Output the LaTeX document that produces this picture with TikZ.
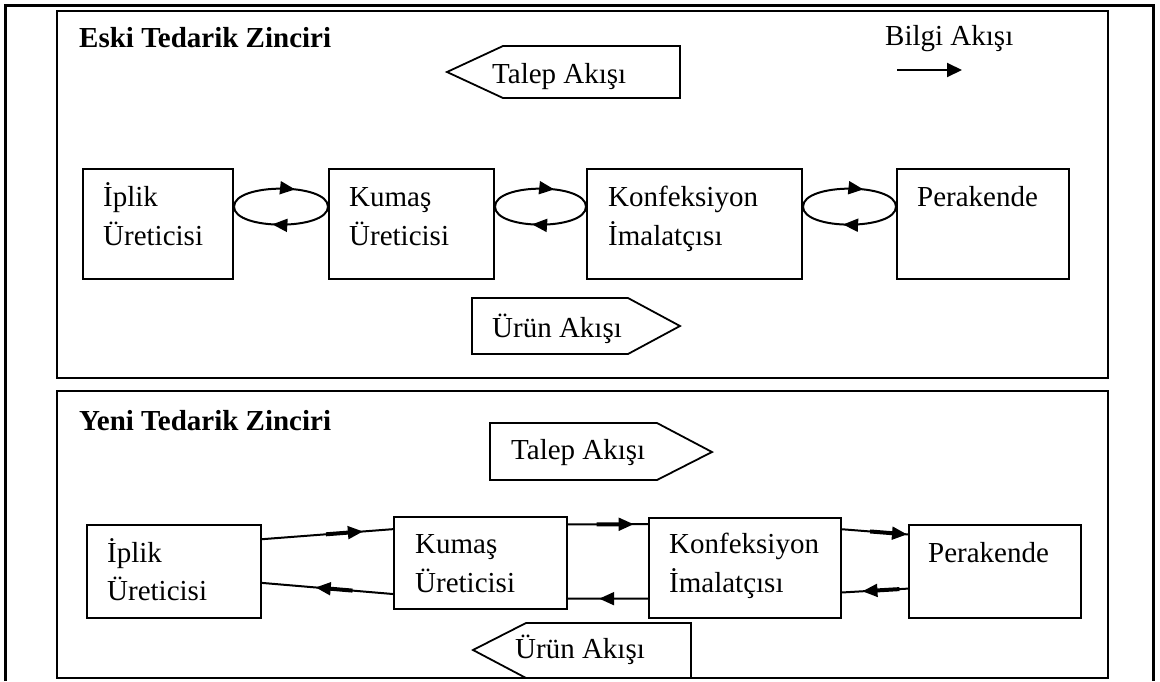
\documentclass[tikz,border=0pt]{standalone}
\usepackage{fontspec}
\setmainfont{Liberation Serif}
\usetikzlibrary{arrows.meta,decorations.markings,calc}
\begin{document}
\begin{tikzpicture}[x=1pt,y=-1pt,
  lbl/.style={inner sep=0pt, anchor=base west, font=\fontsize{29}{35}\selectfont},
  ttl/.style={inner sep=0pt, anchor=base west, font=\fontsize{29}{35}\selectfont\bfseries},
  stepbox/.style={draw, line width=2pt, inner sep=0pt, anchor=north west},
  panel/.style={draw, line width=2.4pt},
  link/.style={line width=2pt},
  flowshape/.style={line width=1.8pt, line join=miter},
  tipat/.style={postaction={decorate, decoration={markings,
      mark=at position #1 with {\arrow{Triangle[length=15pt,width=13pt]}}}}},
  tipbar/.style={postaction={decorate, decoration={markings,
      mark=at position #1 with {\draw[line width=4pt] (-37pt,0pt) -- (-14pt,0pt);
                                \arrow{Triangle[length=15pt,width=13pt]}}}}},
]
\useasboundingbox (0,0) rectangle (1160,681);

% outer frame (open at the bottom) and the two panels
\draw[line width=3pt] (5,681) -- (5,5) -- (1153,5) -- (1153,681);
\draw[panel] (57,11) rectangle (1108,378);
\draw[panel] (57,391) rectangle (1108,678);

% ---------- old supply chain ----------
\node[ttl] (oldtitle) at (79,47) {Eski Tedarik Zinciri};

\node[lbl] (info) at (885,45) {Bilgi Akışı};
\coordinate (infoA) at (897,70);
\coordinate (infoB) at (962,70);
\draw[link,-{Triangle[length=15pt,width=14pt]}] (infoA) -- (infoB);

\draw[flowshape] (447,72) -- (503,46) -- (680,46) -- (680,98) -- (503,98) -- cycle;
\node[lbl] (dem1) at (492,83) {Talep Akışı};

\draw[flowshape] (472,298) -- (628,298) -- (680,326) -- (628,354) -- (472,354) -- cycle;
\node[lbl] (prod1) at (492,337) {Ürün Akışı};

\node[stepbox, minimum width=150, minimum height=110] (ip1) at (82,168) {};
\node[stepbox, minimum width=165, minimum height=110] (ku1) at (328,168) {};
\node[stepbox, minimum width=215, minimum height=110] (ko1) at (586,168) {};
\node[stepbox, minimum width=172, minimum height=110] (pe1) at (896,168) {};

\node[lbl] (ip1a) at (103,206) {İplik};
\node[lbl] (ip1b) at (103,245) {Üreticisi};
\node[lbl] (ku1a) at (349,206) {Kumaş};
\node[lbl] (ku1b) at (349,245) {Üreticisi};
\node[lbl] (ko1a) at (608,206) {Konfeksiyon};
\node[lbl] (ko1b) at (608,245) {İmalatçısı};
\node[lbl] (pe1a) at (917,206) {Perakende};

% two-way information loops
\coordinate (l1a) at ($(ip1.north east)!0.345!(ip1.south east)$);
\coordinate (l1b) at ($(ku1.north west)!0.345!(ku1.south west)$);
\coordinate (l2a) at ($(ku1.north east)!0.345!(ku1.south east)$);
\coordinate (l2b) at ($(ko1.north west)!0.345!(ko1.south west)$);
\coordinate (l3a) at ($(ko1.north east)!0.345!(ko1.south east)$);
\coordinate (l3b) at ($(pe1.north west)!0.345!(pe1.south west)$);

\draw[link, tipat=0.63] (l1a) .. controls +(0,-24) and +(0,-24) .. (l1b);
\draw[link, tipat=0.58] (l1b) .. controls +(0,24) and +(0,24) .. (l1a);
\draw[link, tipat=0.63] (l2a) .. controls +(0,-24) and +(0,-24) .. (l2b);
\draw[link, tipat=0.58] (l2b) .. controls +(0,24) and +(0,24) .. (l2a);
\draw[link, tipat=0.63] (l3a) .. controls +(0,-24) and +(0,-24) .. (l3b);
\draw[link, tipat=0.56] (l3b) .. controls +(0,24) and +(0,24) .. (l3a);

% ---------- new supply chain ----------
\node[ttl] (newtitle) at (79,430) {Yeni Tedarik Zinciri};

\draw[flowshape] (490,423) -- (657,423) -- (712,452) -- (657,480) -- (490,480) -- cycle;
\node[lbl] (dem2) at (511,459) {Talep Akışı};

\draw[flowshape] (473,650) -- (526,623) -- (691,623) -- (691,678) -- (526,678) -- cycle;
\node[lbl] (prod2) at (515,658) {Ürün Akışı};

\node[stepbox, minimum width=174, minimum height=93]  (ip2) at (86,524) {};
\node[stepbox, minimum width=173, minimum height=92]  (ku2) at (393,516) {};
\node[stepbox, minimum width=192, minimum height=100] (ko2) at (648,517) {};
\node[stepbox, minimum width=172, minimum height=93]  (pe2) at (908,524) {};

\node[lbl] (ip2a) at (107,562) {İplik};
\node[lbl] (ip2b) at (107,600) {Üreticisi};
\node[lbl] (ku2a) at (415,553) {Kumaş};
\node[lbl] (ku2b) at (415,592) {Üreticisi};
\node[lbl] (ko2a) at (669,553) {Konfeksiyon};
\node[lbl] (ko2b) at (669,592) {İmalatçısı};
\node[lbl] (pe2a) at (928,562) {Perakende};

\draw[link, tipbar=0.77]
  ($(ip2.north east)!0.16!(ip2.south east)$) -- ($(ku2.north west)!0.14!(ku2.south west)$);
\draw[link, tipbar=0.59]
  ($(ku2.north west)!0.83!(ku2.south west)$) -- ($(ip2.north east)!0.62!(ip2.south east)$);
\draw[link, tipbar=0.82]
  ($(ku2.north east)!0.09!(ku2.south east)$) -- ($(ko2.north west)!0.07!(ko2.south west)$);
\draw[link, tipat=0.61]
  ($(ko2.north west)!0.80!(ko2.south west)$) -- ($(ku2.north east)!0.88!(ku2.south east)$);
\draw[link, tipbar=0.985]
  ($(ko2.north east)!0.12!(ko2.south east)$) -- ($(pe2.north west)!0.11!(pe2.south west)$);
\draw[link, tipbar=0.69]
  ($(pe2.north west)!0.68!(pe2.south west)$) -- ($(ko2.north east)!0.74!(ko2.south east)$);
\end{tikzpicture}
\end{document}
